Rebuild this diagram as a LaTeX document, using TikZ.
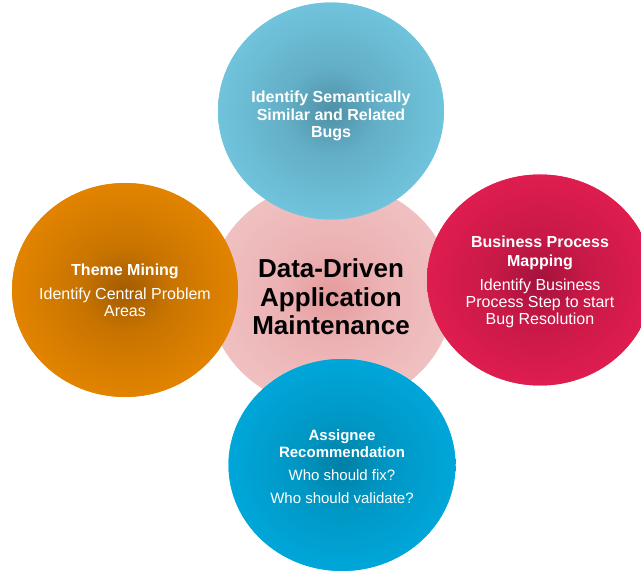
\documentclass[tikz,border=0pt]{standalone}
\usepackage{fontspec}
\setmainfont{Liberation Sans}
\usetikzlibrary{shapes.geometric}

\definecolor{pinkIn}{HTML}{E59A9C}
\definecolor{pinkOut}{HTML}{F2C8C9}
\definecolor{skyIn}{HTML}{4F90A6}
\definecolor{skyOut}{HTML}{76CDE6}
\definecolor{orangeIn}{HTML}{A25C00}
\definecolor{orangeOut}{HTML}{EE8B00}
\definecolor{redIn}{HTML}{A3123B}
\definecolor{redOut}{HTML}{EA1F53}
\definecolor{blueIn}{HTML}{007FA4}
\definecolor{blueOut}{HTML}{00AEE3}

\colorlet{bubbleIn}{white}
\colorlet{bubbleOut}{white}
\pgfdeclareradialshading[bubbleIn,bubbleOut]{bubble}{\pgfpoint{0bp}{0bp}}{%
  color(0bp)=(bubbleIn); color(10bp)=(bubbleIn!50!bubbleOut);
  color(32bp)=(bubbleOut); color(50bp)=(bubbleOut)}

\tikzset{
  bubblefill/.style 2 args={ellipse, inner sep=0pt, outer sep=0pt,
    minimum width=226pt, minimum height=214pt, fill=#2,
    /utils/exec={\colorlet{bubbleIn}{#1}\colorlet{bubbleOut}{#2}}, shading=bubble},
  topictext/.style={align=center, text=white, inner sep=0pt, font=\fontsize{#1}{17}\selectfont}
}

\begin{document}
\begin{tikzpicture}[x=1pt,y=-1pt]
    \useasboundingbox (0,0) rectangle (641,572);

    % bubbles, centre first
    \node[bubblefill={pinkIn}{pinkOut}, minimum width=244pt, minimum height=226pt] (hub) at (331, 295) {};
    \node[bubblefill={skyIn}{skyOut}, minimum height=217pt] (bugs) at (331, 111) {};
    \node[bubblefill={orangeIn}{orangeOut}] (theme) at (125, 290) {};
    \node[bubblefill={redIn}{redOut}, minimum height=211pt] (process) at (540, 280) {};
    \node[bubblefill={blueIn}{blueOut}, minimum width=227pt, minimum height=212pt] (assignee) at (342, 465) {};

    % texts
    \node[align=center, inner sep=0pt, font=\fontsize{26}{28.5}\selectfont\bfseries]
        (hub_text) at ([yshift=-2]hub) {Data-Driven\\Application\\Maintenance};
    \node[topictext=16, font=\fontsize{16}{17.5}\selectfont\bfseries]
        (bugs_text) at ([yshift=-5]bugs) {Identify Semantically\\Similar and Related\\Bugs};
    \node[topictext=16] (theme_text) at (theme)
        {\textbf{Theme Mining}\\[7pt]Identify Central Problem\\Areas};
    \node[topictext=16] (process_text) at ([yshift=-2]process)
        {\textbf{Business Process}\\[2pt]\textbf{Mapping}\\[7pt]Identify Business\\Process Step to start\\Bug Resolution};
    \node[topictext=15] (assignee_text) at ([yshift=-2]assignee)
        {\textbf{Assignee}\\\textbf{Recommendation}\\[6pt]Who should fix?\\[6pt]Who should validate?};
\end{tikzpicture}
\end{document}
